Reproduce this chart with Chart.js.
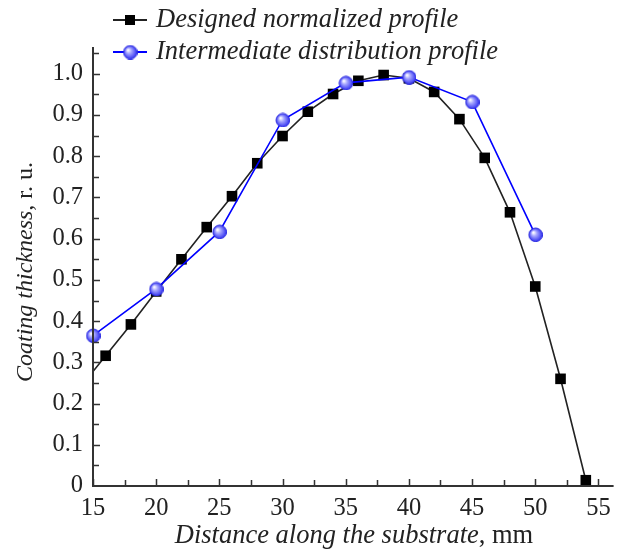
<!DOCTYPE html>
<html>
<head>
<meta charset="utf-8">
<script src="https://cdn.jsdelivr.net/npm/chart.js@4"></script>
<style>
  html, body { margin: 0; padding: 0; background: #fff; }
  #wrap { position: relative; width: 622px; height: 550px; }
</style>
</head>
<body>
<div id="wrap"><canvas id="profileChart" width="622" height="550"></canvas></div>
<script>
// Designed normalized profile (black squares)
const designedX = [14, 16, 18, 20, 22, 24, 26, 28, 30, 32, 34, 36, 38, 40, 42, 44, 46, 48, 50, 52, 54];
const designedY = [0.24, 0.316, 0.392, 0.472, 0.55, 0.628, 0.703, 0.783, 0.849, 0.908, 0.951, 0.983, 0.997, 0.989, 0.956, 0.89, 0.796, 0.664, 0.484, 0.26, 0.014];

// Intermediate distribution profile (blue circles)
const interX = [15, 20, 25, 30, 35, 40, 45, 50];
const interY = [0.365, 0.478, 0.617, 0.888, 0.978, 0.992, 0.932, 0.61];

const xTicks = [15, 20, 25, 30, 35, 40, 45, 50, 55];
const yTicks = [0, 0.1, 0.2, 0.3, 0.4, 0.5, 0.6, 0.7, 0.8, 0.9, 1.0];

const seriesNames = ['Designed normalized profile', 'Intermediate distribution profile'];

const SERIF = '"Liberation Serif", "DejaVu Serif", serif';
const INK = '#222';
const BLUE = '#0000ff';

// shaded ball marker for the blue series
function makeBall(r) {
    const c = document.createElement('canvas');
    c.width = c.height = r * 2 + 2;
    const g = c.getContext('2d');
    const cx = r + 1, cy = r + 1;
    const grad = g.createRadialGradient(cx - r * 0.35, cy - r * 0.35, 0.5, cx, cy, r);
    grad.addColorStop(0, '#ffffff');
    grad.addColorStop(0.35, '#a8a8ff');
    grad.addColorStop(1, '#3232f0');
    g.beginPath();
    g.arc(cx, cy, r, 0, Math.PI * 2);
    g.fillStyle = grad;
    g.fill();
    g.lineWidth = 1;
    g.strokeStyle = '#2a2ae0';
    g.stroke();
    return c;
}
const ball = makeBall(6.8);

function pairs(xs, ys) {
    return xs.map((x, i) => ({ x: x, y: ys[i] }));
}

// axes with inward major and minor ticks, only left and bottom
const axesPlugin = {
    id: 'axesPlugin',
    afterDraw(chart) {
        const ctx = chart.ctx;
        const a = chart.chartArea;
        const xs = chart.scales.x, ys = chart.scales.y;
        ctx.save();
        ctx.strokeStyle = '#333';
        ctx.lineWidth = 2;
        ctx.beginPath();
        ctx.moveTo(a.left, a.top);
        ctx.lineTo(a.left, a.bottom);
        ctx.lineTo(a.right, a.bottom);
        ctx.stroke();

        ctx.lineWidth = 1.5;
        ctx.beginPath();
        for (let v = 15; v <= 55.01; v += 2.5) {
            const px = Math.round(xs.getPixelForValue(v)) + 0.5;
            const len = (Math.abs(v % 5) < 0.01) ? 7 : 6;
            ctx.moveTo(px, a.bottom);
            ctx.lineTo(px, a.bottom - len);
        }
        for (let v = 0.05; v <= 1.051; v += 0.05) {
            const py = Math.round(ys.getPixelForValue(v)) + 0.5;
            const major = Math.abs(Math.round(v * 20) % 2) === 0;
            ctx.moveTo(a.left, py);
            ctx.lineTo(a.left + (major ? 7 : 6), py);
        }
        ctx.stroke();
        ctx.restore();
    }
};

// draws "italic part" + "upright part" centred at (cx, cy)
function mixedText(ctx, parts, cx, cy) {
    let total = 0;
    parts.forEach(p => { ctx.font = p.font; total += ctx.measureText(p.text).width; });
    let x = cx - total / 2;
    ctx.textBaseline = 'middle';
    ctx.textAlign = 'left';
    parts.forEach(p => {
        ctx.font = p.font;
        ctx.fillText(p.text, x, cy);
        x += ctx.measureText(p.text).width;
    });
}

const titlesPlugin = {
    id: 'titlesPlugin',
    afterDraw(chart) {
        const ctx = chart.ctx;
        ctx.save();
        ctx.fillStyle = INK;
        mixedText(ctx, [
            { text: 'Distance along the substrate', font: 'italic 26.5px ' + SERIF },
            { text: ', mm', font: '26.5px ' + SERIF }
        ], 354, 536);

        ctx.translate(26, 272);
        ctx.rotate(-Math.PI / 2);
        mixedText(ctx, [
            { text: 'Coating thickness', font: 'italic 24px ' + SERIF },
            { text: ', r. u.', font: '24px ' + SERIF }
        ], 0, 0);
        ctx.restore();

        // legend
        ctx.save();
        const rows = [
            { y: 20, color: INK, marker: 'square' },
            { y: 52, color: BLUE, marker: 'ball' }
        ];
        rows.forEach((r, i) => {
            ctx.strokeStyle = r.color;
            ctx.lineWidth = 1.8;
            ctx.beginPath();
            ctx.moveTo(113, r.y);
            ctx.lineTo(147, r.y);
            ctx.stroke();
            if (r.marker === 'square') {
                ctx.fillStyle = '#000';
                ctx.fillRect(125, r.y - 5, 10, 10);
            } else {
                ctx.drawImage(ball, 130 - ball.width / 2, r.y - ball.height / 2);
            }
            ctx.fillStyle = INK;
            ctx.font = 'italic 26.5px ' + SERIF;
            ctx.textAlign = 'left';
            ctx.textBaseline = 'middle';
            ctx.fillText(seriesNames[i], 156, r.y);
        });
        ctx.restore();
    }
};

new Chart(document.getElementById('profileChart'), {
    type: 'line',
    data: {
        datasets: [{
            label: seriesNames[0],
            data: pairs(designedX, designedY),
            borderColor: INK,
            borderWidth: 1.6,
            backgroundColor: '#000',
            pointStyle: 'rect',
            pointRadius: 7.5,
            pointBorderWidth: 0,
            pointHoverRadius: 7.5,
            tension: 0,
            clip: { left: 0, top: false, right: false, bottom: false },
            order: 2
        }, {
            label: seriesNames[1],
            data: pairs(interX, interY),
            borderColor: BLUE,
            borderWidth: 1.6,
            pointStyle: ball,
            pointRadius: 6.8,
            tension: 0,
            clip: false,
            order: 1
        }]
    },
    options: {
        responsive: false,
        animation: false,
        events: [],
        layout: { padding: { top: 47, right: 6, left: 0, bottom: 0 } },
        plugins: {
            legend: { display: false },
            tooltip: { enabled: false }
        },
        scales: {
            x: {
                type: 'linear',
                min: 15,
                max: 56.2,
                afterBuildTicks: s => { s.ticks = xTicks.map(v => ({ value: v })); },
                afterFit: s => { s.height = 64; },
                grid: { display: false, drawTicks: false },
                border: { display: false },
                ticks: {
                    padding: 8,
                    color: INK,
                    font: { family: SERIF, size: 24.5 },
                    maxRotation: 0,
                    callback: v => String(v)
                }
            },
            y: {
                type: 'linear',
                min: 0,
                max: 1.065,
                afterBuildTicks: s => { s.ticks = yTicks.map(v => ({ value: v })); },
                afterFit: s => { s.width = 93; },
                grid: { display: false, drawTicks: false },
                border: { display: false },
                ticks: {
                    padding: 10,
                    color: INK,
                    font: { family: SERIF, size: 24.5 },
                    callback: v => (v === 0 ? '0' : v.toFixed(1))
                }
            }
        }
    },
    plugins: [axesPlugin, titlesPlugin]
});
</script>
</body>
</html>
